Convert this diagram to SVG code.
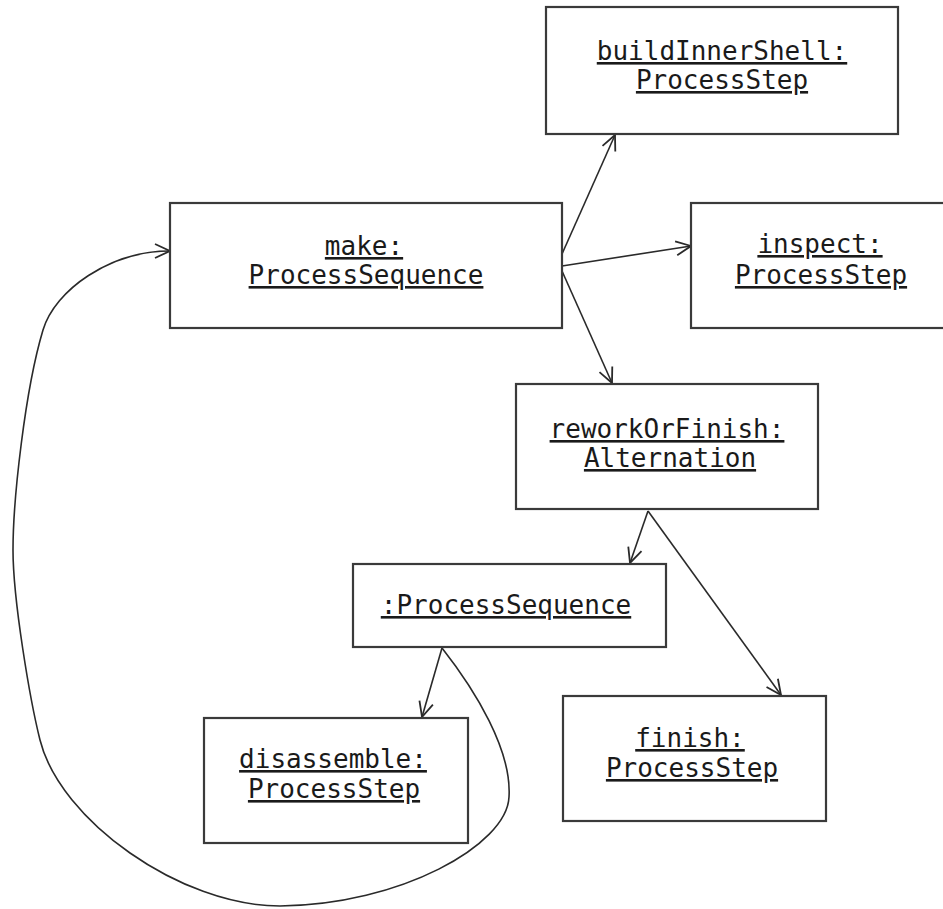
<svg xmlns="http://www.w3.org/2000/svg" width="943" height="909" viewBox="0 0 943 909">
<style>
.box{fill:#fff;stroke:#3a3a3a;stroke-width:2.2}
.lbl{font-family:"DejaVu Sans Mono","Liberation Mono",monospace;font-size:26px;fill:#1a1a1a;text-anchor:middle;text-decoration:underline}
.edge{fill:none;stroke:#2a2a2a;stroke-width:1.6}
</style>
<defs>
<marker id="arr" markerUnits="userSpaceOnUse" markerWidth="20" markerHeight="20" refX="16" refY="8" orient="auto" viewBox="0 0 20 16">
<path d="M1,1 L16,8 L1,15" fill="none" stroke="#2a2a2a" stroke-width="1.8"/>
</marker>
</defs>
<rect width="943" height="909" fill="#fff"/>
<g id="connectors">
<line class="edge" x1="562" y1="254" x2="615" y2="135" marker-end="url(#arr)"/>
<line class="edge" x1="562" y1="266" x2="691" y2="246" marker-end="url(#arr)"/>
<line class="edge" x1="562" y1="271" x2="612" y2="383" marker-end="url(#arr)"/>
<line class="edge" x1="648" y1="511" x2="630" y2="563" marker-end="url(#arr)"/>
<line class="edge" x1="648" y1="511" x2="781" y2="695" marker-end="url(#arr)"/>
<line class="edge" x1="442" y1="648" x2="422" y2="717" marker-end="url(#arr)"/>
<path class="edge" d="M442,648 C475,690 512,750 509,797 C507,845 400,905 280,906 C180,906 60,820 40,740 C30,700 13,600 13,550 C13,500 25,390 43,330 C55,290 110,251 170,251" marker-end="url(#arr)"/>
</g>
<g id="buildInnerShell">
<rect class="box" x="546" y="7" width="352" height="127"/>
<text class="lbl" x="722" y="60">buildInnerShell:</text>
<text class="lbl" x="722" y="89">ProcessStep</text>
</g>
<g id="make">
<rect class="box" x="170" y="203" width="392" height="125"/>
<text class="lbl" x="364" y="255">make:</text>
<text class="lbl" x="366" y="284">ProcessSequence</text>
</g>
<g id="inspect">
<rect class="box" x="691" y="203" width="262" height="125"/>
<text class="lbl" x="820" y="253">inspect:</text>
<text class="lbl" x="821" y="284">ProcessStep</text>
</g>
<g id="reworkOrFinish">
<rect class="box" x="516" y="384" width="302" height="125"/>
<text class="lbl" x="667" y="438">reworkOrFinish:</text>
<text class="lbl" x="670" y="467">Alternation</text>
</g>
<g id="processSequence">
<rect class="box" x="353" y="564" width="313" height="83"/>
<text class="lbl" x="506" y="614">:ProcessSequence</text>
</g>
<g id="disassemble">
<rect class="box" x="204" y="718" width="264" height="125"/>
<text class="lbl" x="333" y="768">disassemble:</text>
<text class="lbl" x="334" y="798">ProcessStep</text>
</g>
<g id="finish">
<rect class="box" x="563" y="696" width="263" height="125"/>
<text class="lbl" x="690" y="747">finish:</text>
<text class="lbl" x="692" y="777">ProcessStep</text>
</g>
</svg>
